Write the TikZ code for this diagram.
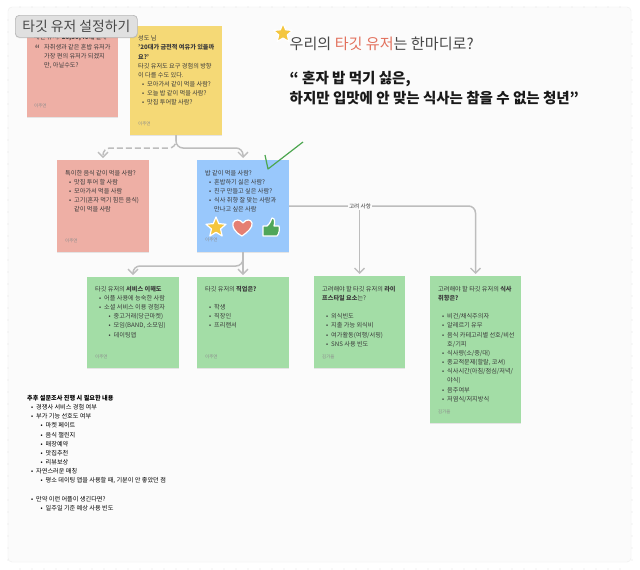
\documentclass[tikz,border=0pt]{standalone}
\usepackage{fontspec}
\setmainfont{Noto Sans CJK KR}
\usetikzlibrary{arrows.meta,shadows,shapes.geometric,calc}
\definecolor{panelc}{HTML}{FBFBFB}
\definecolor{edgec}{HTML}{EEEEEE}
\definecolor{tickc}{HTML}{E4E4E4}
\definecolor{pinkc}{HTML}{EEAFA5}
\definecolor{yellowc}{HTML}{F5D976}
\definecolor{bluec}{HTML}{99C8FC}
\definecolor{greenc}{HTML}{A3DDA6}
\definecolor{linec}{HTML}{BDBDBD}
\definecolor{txtc}{HTML}{3A3A3A}
\definecolor{redc}{HTML}{E2705C}
\definecolor{starc}{HTML}{F4C63E}
\definecolor{heartc}{HTML}{E57F72}
\definecolor{thumbc}{HTML}{4FA65A}
\definecolor{checkc}{HTML}{4CA64F}
\tikzset{
  x=1pt,y=-1pt,
  note/.style={anchor=north west,inner sep=0,outer sep=0,minimum width=92pt,fill=#1,
    drop shadow={opacity=.18,shadow xshift=0pt,shadow yshift=-1.2pt}},
  body/.style={anchor=north west,inner sep=0,align=left,text=txtc,font=\fontsize{6.15}{9.15}\selectfont},
  auth/.style={anchor=west,inner sep=0,text=black!45,font=\fontsize{4.5}{5}\selectfont},
  conn/.style={draw=linec,line width=1.5pt,rounded corners=7pt,-{Straight Barb[length=5pt,width=10pt,line width=1.3pt]},shorten >=2pt},
  sticker/.style={draw=white,line width=1.2pt,line join=round},
}
\newcommand{\bua}[1]{\hspace*{4pt}\makebox[5pt][l]{•}#1}
\newcommand{\bub}[1]{\hspace*{13.5pt}\makebox[5pt][l]{•}#1}
\newcommand{\cont}[1]{\hspace*{9pt}#1}
\begin{document}
\begin{tikzpicture}
\useasboundingbox (0,0) rectangle (640,570);
\fill[white] (0,0) rectangle (640,570);
\draw[edgec,fill=panelc,rounded corners=4pt] (8,7) rectangle (631,562);
\foreach \t in {20,32,...,620} {
  \fill[tickc] (\t,7) circle (.6);
  \fill[tickc] (\t,569) circle (.6);
}
\foreach \t in {20,32,...,560} {
  \fill[tickc] (8,\t) circle (.6);
  \fill[tickc] (632,\t) circle (.6);
}

% notes
\node[note=pinkc,minimum width=91pt,minimum height=91pt] (pinka) at (27,26) {};
\node[note=yellowc,minimum height=109pt] (yellow) at (130,26) {};
\node[note=pinkc,minimum height=92pt] (pinkb) at (57,160) {};
\node[note=bluec,minimum height=92pt] (blue) at (197,160) {};
\node[note=greenc,minimum height=91pt] (greena) at (87,277) {};
\node[note=greenc,minimum height=91pt] (greenb) at (197,277) {};
\node[note=greenc,minimum width=91pt,minimum height=92pt] (greenc) at (314,276) {};
\node[note=greenc,minimum width=91pt,minimum height=147pt] (greend) at (430,276) {};

% connectors
\coordinate (ya) at (176,148);
\coordinate (ba) at (243,266);
\coordinate (ra) at (475.5,206);
\draw[conn,dash pattern=on 6pt off 3pt] (yellow.south) -- (ya) -| (pinkb.north);
\draw[conn] (yellow.south) -- (ya) -| (blue.north);
\draw[conn] (blue.south) -- (ba) -| (greena.north);
\draw[conn] (blue.south) -- (greenb.north);
\draw[conn] (blue.east |- ra) -- (ra) -- (greend.north);
\draw[conn] (greenc.north |- ra) -- (greenc.north);
\node[inner sep=1.5pt,fill=panelc,text=txtc,font=\fontsize{5.6}{6}\selectfont] (lab) at (360,206) {고려 사항};

% texts
\node[body] (tpa) at (34,34.5) {메인 유저: \textbf{20,30,40대} 결제\\[0.3pt]
\hspace*{10pt}자취생과 같은 혼밥 유저가\\\hspace*{10pt}가장 편의 유저가 되겠지\\\hspace*{10pt}만, 아닐수도?};
\node[font=\fontsize{11}{11}\selectfont,text=txtc,inner sep=0] (qm) at (37.5,49) {“};
\node[auth] (apa) at (34,106) {이주연};
\node[body] (tya) at (138,35.5) {성도 님\\\textbf{'20대가 금전적 여유가 있을까}\\\textbf{요?'}\\타깃 유저도 요구 경험의 방향\\이 다를 수도 있다.\\\bua{모아가서 같이 먹을 사람?}\\\bua{오늘 밥 같이 먹을 사람?}\\\bua{맛집 투어할 사람?}};
\node[auth] (aya) at (138,124) {이주연};
\node[body] (tpb) at (65,170) {특이한 음식 같이 먹을 사람?\\\bua{맛집 투어 할 사람}\\\bua{모아가서 먹을 사람}\\\bua{고기(혼자 먹기 힘든 음식)}\\\cont{같이 먹을 사람}};
\node[auth] (apb) at (65,241) {이주연};
\node[body] (tbl) at (205,170) {밥 같이 먹을 사람?\\\bua{혼밥하기 싫은 사람?}\\\bua{친구 만들고 싶은 사람?}\\\bua{식사 취향 잘 맞는 사람과}\\\cont{만나고 싶은 사람}};
\node[auth] (abl) at (205,240) {이주연};
\node[body] (tga) at (95,286) {타깃 유저의 \textbf{서비스 이해도}\\\bua{어플 사용에 능숙한 사람}\\\bua{소셜 서비스 이용 경험자}\\\bub{중고거래(당근마켓)}\\\bub{모임(BAND, 소모임)}\\\bub{데이팅앱}};
\node[auth] (aga) at (95,357) {이주연};
\node[body] (tgb) at (205,286) {타깃 유저의 \textbf{직업은?}\\[9.15pt]\bua{학생}\\\bua{직장인}\\\bua{프리랜서}};
\node[auth] (agb) at (205,357) {이주연};
\node[body] (tgc) at (322,286) {고려해야 할 타깃 유저의 \textbf{라이}\\\textbf{프스타일 요소}는?\\[9.15pt]\bua{외식빈도}\\\bua{지출 가능 외식비}\\\bua{여가활동(여행/서핑)}\\\bua{SNS 사용 빈도}};
\node[auth] (agc) at (322,357) {김가을};
\node[body] (tgd) at (438,286) {고려해야 할 타깃 유저의 \textbf{식사}\\\textbf{취향은?}\\[9.15pt]\bua{비건/채식주의자}\\\bua{알레르기 유무}\\\bua{음식 카테고리별 선호/비선}\\\cont{호/기피}\\\bua{식사량(소/중/대)}\\\bua{종교적문제(할랄, 코셔)}\\\bua{식사시간(아침/점심/저녁/}\\\cont{야식)}\\\bua{음주여부}\\\bua{저염식/저지방식}};
\node[auth] (agd) at (438,412) {김가을};
\node[body,text=black] (tbot) at (27,395) {\textbf{추후 설문조사 진행 시 필요한 내용}\\\bua{경쟁사 서비스 경험 여부}\\\bua{부가 기능 선호도 여부}\\\bub{마켓 페이트}\\\bub{음식 챌린지}\\\bub{매장예약}\\\bub{맛집추천}\\\bub{리뷰보상}\\\bua{자연스러운 매칭}\\\bub{평소 데이팅 앱을 사용할 때, 기분이 안 좋았던 점}\\[9.15pt]\bua{만약 이런 어플이 생긴다면?}\\\bub{일주일 기준 예상 사용 빈도}};

% header
\node[anchor=west,inner sep=0,text=black!72,font=\fontsize{15.1}{18}\selectfont] (head) at (289.5,44) {우리의 \textcolor{redc}{타깃 유저}는 한마디로?};
\node[star,star points=5,star point ratio=2.2,fill=starc,sticker,minimum size=20pt,inner sep=0] (hstar) at (283,33.5) {};
\node[anchor=north west,inner sep=0,align=left,text=black!90,font=\fontsize{14.5}{20}\bfseries\selectfont] (quote) at (289.5,71) {“ 혼자 밥 먹기 싫은,\\하지만 입맛에 안 맞는 식사는 참을 수 없는 청년”};

% title
\node[anchor=north west,inner sep=0,minimum width=122pt,minimum height=22pt,rounded corners=4pt,fill=black!12,draw=black!28,line width=.7pt,text=black!72,font=\fontsize{13.8}{15}\selectfont,drop shadow={opacity=.15,shadow xshift=0pt,shadow yshift=-1pt}] (title) at (15,15) {타깃 유저 설정하기};

% stickers
\node[star,star points=5,star point ratio=2.2,fill=starc,sticker,minimum size=21pt,inner sep=0] (sstar) at (216,227.5) {};
\draw[sticker,fill=heartc] (242,236) .. controls (234,232) and (232,226) .. (233,223) .. controls (235,219) and (240,219) .. (243,223) .. controls (246,219) and (251,219) .. (252,223) .. controls (253,227) and (248,232) .. (242,236) -- cycle;
\draw[sticker,fill=thumbc] (263,226) -- (267,226) .. controls (270,224) and (271,220) .. (272,218) .. controls (275,218) and (275,222) .. (274,226) -- (279,226) .. controls (280,229) and (279,234) .. (277,236) -- (263,236) -- cycle;

% check mark
\coordinate (ca) at (265,155);
\coordinate (cb) at (268,169);
\coordinate (cc) at (303,142);
\draw[checkc,line width=1.2pt,line join=round] (ca) -- (cb) -- (cc);
\end{tikzpicture}
\end{document}
